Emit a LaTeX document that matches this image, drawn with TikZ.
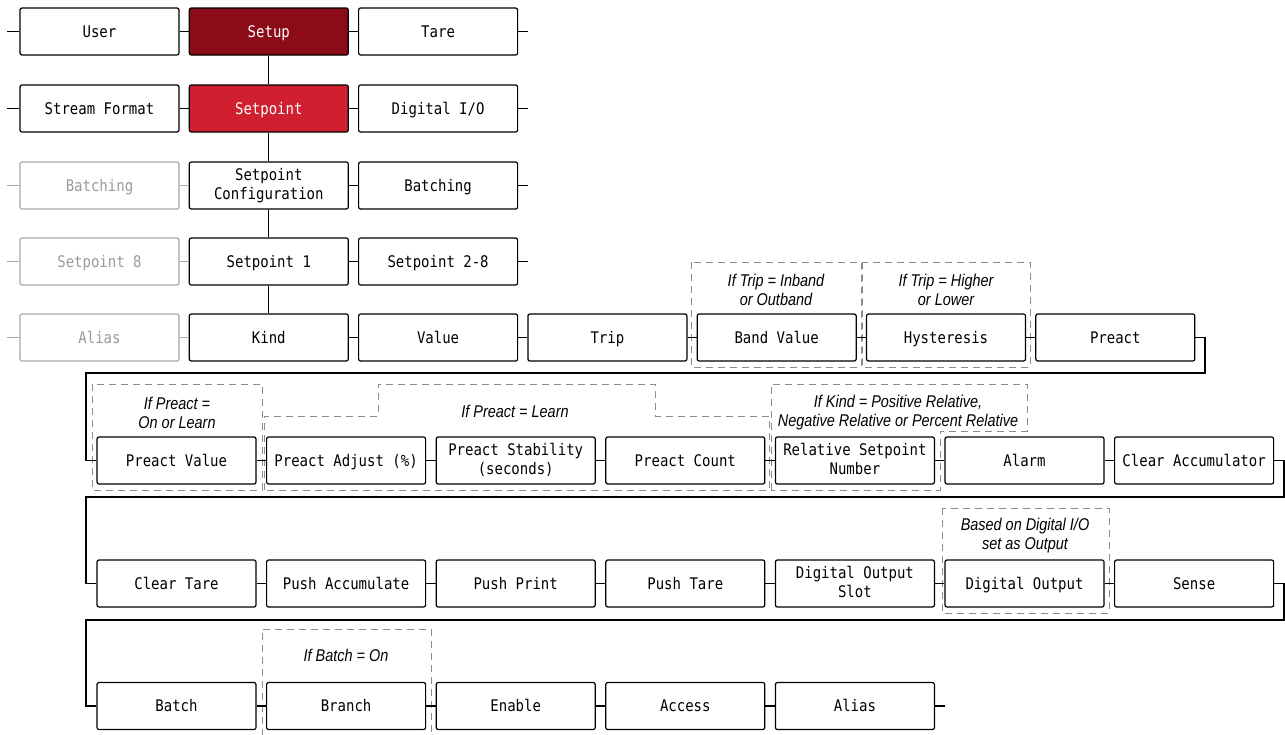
\documentclass[tikz,border=0pt]{standalone}
\usepackage{fontspec}
\setmonofont{DejaVu Sans Mono}[FakeStretch=0.875]
\newfontfamily\notefont{Liberation Sans}[FakeStretch=0.85]
\definecolor{setupred}{RGB}{139,11,24}
\definecolor{spred}{RGB}{208,32,48}
\definecolor{gboxline}{RGB}{168,168,168}
\definecolor{gboxtext}{RGB}{155,155,155}
\definecolor{dashgray}{RGB}{140,140,140}
\newcommand{\boxstrut}{\rule[-4pt]{0pt}{19.5pt}}
\tikzset{
  box/.style={draw=black, line width=1.2pt, rounded corners=2pt, minimum width=159pt, minimum height=47pt,
    inner sep=0pt, align=center, fill=white,
    execute at begin node=\boxstrut, execute at end node=\boxstrut,
    font=\ttfamily\fontsize{16}{19}\selectfont},
  gbox/.style={box, draw=gboxline, text=gboxtext},
  redbox/.style={box, fill=#1, text=white},
  link/.style={line width=1.2pt, black},
  glink/.style={line width=1.2pt, gboxline},
  condbox/.style={draw=dashgray, line width=1pt, dash pattern=on 7pt off 5pt},
  note/.style={font=\notefont\itshape\fontsize{17}{19}\selectfont, align=center, inner sep=0pt}
}
\begin{document}
\begin{tikzpicture}[x=1pt,y=-1pt]
\useasboundingbox (0,0) rectangle (1285,734);
% conditional dashed regions
\draw[condbox] (691,262) rectangle (861,367);
\draw[condbox] (862,262) rectangle (1030,367);
\draw[condbox] (92,384) rectangle (262,490);
\draw[condbox] (264,490) -- (264,416) -- (378,416) -- (378,384) -- (655,384) -- (655,416) -- (769,416) -- (769,490) -- cycle;
\draw[condbox] (771,490) -- (771,384) -- (1027,384) -- (1027,431) -- (940,431) -- (940,490) -- cycle;
\draw[condbox] (942,508) rectangle (1109,613);
\draw[condbox] (262,736) -- (262,629) -- (431,629) -- (431,736);
\node[note] (n1) at (776,290) {If Trip = Inband\\or Outband};
\node[note] (n2) at (946,290) {If Trip = Higher\\or Lower};
\node[note] (n3) at (177,413) {If Preact =\\On or Learn};
\node[note] (n4) at (515,411) {If Preact = Learn};
\node[note] (n5) at (898,412.5) {If Kind = Positive Relative,\\Negative Relative or Percent Relative};
\node[note] (n6) at (1025,535.5) {Based on Digital I/O\\set as Output};
\node[note] (n7) at (346,655) {If Batch = On};
% row 1
\node[box] (user) at (99.5,31.5) {User};
\node[redbox=setupred] (setup) at (268.8,31.5) {Setup};
\node[box] (tare) at (438.1,31.5) {Tare};
% row 2
\node[box] (stream) at (99.5,108.5) {Stream Format};
\node[redbox=spred] (setpoint) at (268.8,108.5) {Setpoint};
\node[box] (dio) at (438.1,108.5) {Digital I/O};
% row 3
\node[gbox] (batchL) at (99.5,185.5) {Batching};
\node[box] (spconf) at (268.8,185.5) {Setpoint\\Configuration};
\node[box] (batchR) at (438.1,185.5) {Batching};
% row 4
\node[gbox] (sp8) at (99.5,261.5) {Setpoint 8};
\node[box] (sp1) at (268.8,261.5) {Setpoint 1};
\node[box] (sp28) at (438.1,261.5) {Setpoint 2-8};
% row 5
\node[gbox] (aliasL) at (99.5,337.5) {Alias};
\node[box] (kind) at (268.8,337.5) {Kind};
\node[box] (value) at (438.1,337.5) {Value};
\node[box] (trip) at (607.4,337.5) {Trip};
\node[box] (band) at (776.7,337.5) {Band Value};
\node[box] (hyst) at (946,337.5) {Hysteresis};
\node[box] (preact) at (1115.3,337.5) {Preact};
% row 6
\node[box] (pval) at (176.5,460.5) {Preact Value};
\node[box] (padj) at (346.1,460.5) {Preact Adjust (\%)};
\node[box] (pstab) at (515.7,460.5) {Preact Stability\\(seconds)};
\node[box] (pcount) at (685.3,460.5) {Preact Count};
\node[box] (relsp) at (854.9,460.5) {Relative Setpoint\\Number};
\node[box] (alarm) at (1024.5,460.5) {Alarm};
\node[box] (clracc) at (1194.1,460.5) {Clear Accumulator};
% row 7
\node[box] (clrtare) at (176.5,583.5) {Clear Tare};
\node[box] (pushacc) at (346.1,583.5) {Push Accumulate};
\node[box] (pushprint) at (515.7,583.5) {Push Print};
\node[box] (pushtare) at (685.3,583.5) {Push Tare};
\node[box] (doslot) at (854.9,583.5) {Digital Output\\Slot};
\node[box] (dout) at (1024.5,583.5) {Digital Output};
\node[box] (sense) at (1194.1,583.5) {Sense};
% row 8
\node[box] (batch) at (176.5,706) {Batch};
\node[box] (branch) at (346.1,706) {Branch};
\node[box] (enable) at (515.7,706) {Enable};
\node[box] (access) at (685.3,706) {Access};
\node[box] (alias) at (854.9,706) {Alias};
% wrap coordinates
\coordinate (w1a) at (1205,373);
\coordinate (w1b) at (86,373);
\coordinate (w2a) at (1284,497);
\coordinate (w2b) at (86,497);
\coordinate (w3a) at (1284,620);
\coordinate (w3b) at (86,620);
% vertical path
\draw[link] (setup) -- (setpoint);
\draw[link] (setpoint) -- (spconf);
\draw[link] (spconf) -- (sp1);
\draw[link] (sp1) -- (kind);
% rows 1-2
\draw[link] (user.west) -- ++(-12,0);
\draw[link] (user) -- (setup);
\draw[link] (setup) -- (tare);
\draw[link] (tare.east) -- ++(10,0);
\draw[link] (stream.west) -- ++(-12,0);
\draw[link] (stream) -- (setpoint);
\draw[link] (setpoint) -- (dio);
\draw[link] (dio.east) -- ++(10,0);
% rows 3-4
\draw[glink] (batchL.west) -- ++(-12,0);
\draw[glink] (batchL) -- (spconf);
\draw[link] (spconf) -- (batchR);
\draw[link] (batchR.east) -- ++(10,0);
\draw[glink] (sp8.west) -- ++(-12,0);
\draw[glink] (sp8) -- (sp1);
\draw[link] (sp1) -- (sp28);
\draw[link] (sp28.east) -- ++(10,0);
% row 5
\draw[glink] (aliasL.west) -- ++(-12,0);
\draw[glink] (aliasL) -- (kind);
\draw[link] (kind) -- (value);
\draw[link] (value) -- (trip);
\draw[link] (trip) -- (band);
\draw[link] (band) -- (hyst);
\draw[link] (hyst) -- (preact);
\draw[link] (preact.east) -| (w1a) -- (w1b) |- (pval.west);
% row 6
\draw[link] (pval) -- (padj);
\draw[link] (padj) -- (pstab);
\draw[link] (pstab) -- (pcount);
\draw[link] (pcount) -- (relsp);
\draw[link] (relsp) -- (alarm);
\draw[link] (alarm) -- (clracc);
\draw[link] (clracc.east) -| (w2a) -- (w2b) |- (clrtare.west);
% row 7
\draw[link] (clrtare) -- (pushacc);
\draw[link] (pushacc) -- (pushprint);
\draw[link] (pushprint) -- (pushtare);
\draw[link] (pushtare) -- (doslot);
\draw[link] (doslot) -- (dout);
\draw[link] (dout) -- (sense);
\draw[link] (sense.east) -| (w3a) -- (w3b) |- (batch.west);
% row 8
\draw[link] (batch) -- (branch);
\draw[link] (branch) -- (enable);
\draw[link] (enable) -- (access);
\draw[link] (access) -- (alias);
\draw[link] (alias.east) -- ++(10,0);
\end{tikzpicture}
\end{document}
